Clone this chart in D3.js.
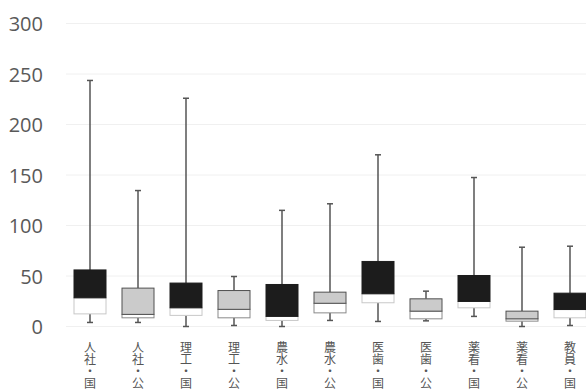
<!DOCTYPE html>
<html>
<head>
<meta charset="utf-8">
<script src="https://cdn.jsdelivr.net/npm/d3@7"></script>
<style>
  html, body { margin: 0; padding: 0; background: #fff; }
  svg { display: block; }
</style>
</head>
<body>
<svg id="chart" width="586" height="392"></svg>
<script>
// Faculty groups (national = 国, public = 公)
const categories = ["人社・国", "人社・公", "理工・国", "理工・公", "農水・国", "農水・公",
                    "医歯・国", "医歯・公", "薬看・国", "薬看・公", "教員・国"];
const kinds      = ["国", "公", "国", "公", "国", "公", "国", "公", "国", "公", "国"];
// Five-number summaries per category
const minVals    = [4,   4,   0,  1,   0,   6,   5,   5.6, 10,  0,   1];
const q1Vals     = [12.5, 8.6, 11, 8.6, 6,   13.5, 23.5, 7.6, 18.5, 5.3, 8.6];
const medVals    = [28.4, 12, 18.5, 17, 10,  23,  32.4, 15.2, 24.8, 7.6, 16.8];
const q3Vals     = [56,  38,  43, 35.6, 41.6, 34, 64.4, 27.4, 50.5, 15.2, 33];
const maxVals    = [243.6, 134.6, 226, 49.5, 115, 121.5, 170, 35, 147.5, 78.5, 79.5];
const yTicks     = [0, 50, 100, 150, 200, 250, 300];

const svg = d3.select("#chart");
const W = 586, H = 392;

const x = d3.scaleBand().domain(categories).range([66, 66 + 48 * categories.length]).padding(0);
const y = d3.scaleLinear().domain([0, 300]).range([326.5, 23.5]);
const boxW = x.bandwidth() * 2 / 3;
const capW = 6;

// faint horizontal gridlines
svg.append("g")
  .selectAll("line")
  .data(yTicks)
  .join("line")
  .attr("x1", 66).attr("x2", W)
  .attr("y1", d => y(d)).attr("y2", d => y(d))
  .attr("stroke", "#f0f0f0")
  .attr("stroke-width", 1);

// y axis labels
const yAxis = d3.axisLeft(y).tickValues(yTicks).tickSize(0).tickPadding(0);
const gy = svg.append("g").attr("transform", "translate(43,0)").call(yAxis);
gy.select(".domain").remove();
gy.selectAll("text")
  .attr("font-family", "'Open Sans', 'Noto Sans', sans-serif")
  .attr("font-size", 20)
  .attr("fill", "#595959")
  .attr("dy", "0.35em");

const data = categories.map((c, i) => ({
  c, kind: kinds[i], min: minVals[i], q1: q1Vals[i], med: medVals[i], q3: q3Vals[i], max: maxVals[i]
}));

const g = svg.append("g");
const box = g.selectAll("g.box").data(data).join("g").attr("class", "box")
  .attr("transform", d => `translate(${x(d.c) + x.bandwidth() / 2},0)`);

// upper whisker
box.append("line")
  .attr("x1", 0).attr("x2", 0)
  .attr("y1", d => y(d.max)).attr("y2", d => y(d.q3))
  .attr("stroke", "#555").attr("stroke-width", 1.5);
box.append("line")
  .attr("x1", -capW / 2).attr("x2", capW / 2)
  .attr("y1", d => y(d.max)).attr("y2", d => y(d.max))
  .attr("stroke", "#555").attr("stroke-width", 1.5);

// lower whisker
box.append("line")
  .attr("x1", 0).attr("x2", 0)
  .attr("y1", d => y(d.q1)).attr("y2", d => y(d.min))
  .attr("stroke", "#555").attr("stroke-width", 1.5);
box.append("line")
  .attr("x1", -capW / 2).attr("x2", capW / 2)
  .attr("y1", d => y(d.min)).attr("y2", d => y(d.min))
  .attr("stroke", "#555").attr("stroke-width", 1.5);

// lower half of box (Q1 to median)
box.append("rect")
  .attr("x", -boxW / 2).attr("width", boxW)
  .attr("y", d => y(d.med)).attr("height", d => y(d.q1) - y(d.med))
  .attr("fill", "#fff")
  .attr("stroke", d => d.kind === "国" ? "#c8c8c8" : "#8a8a8a")
  .attr("stroke-width", 1);

// upper half of box (median to Q3)
box.append("rect")
  .attr("x", -boxW / 2).attr("width", boxW)
  .attr("y", d => y(d.q3)).attr("height", d => y(d.med) - y(d.q3))
  .attr("fill", d => d.kind === "国" ? "#1c1c1c" : "#cbcbcb")
  .attr("stroke", d => d.kind === "国" ? "#1c1c1c" : "#505050")
  .attr("stroke-width", 1);

// vertical category labels, set in vertical writing mode
svg.append("g").selectAll("text").data(categories).join("text")
  .attr("font-family", "'Noto Sans CJK JP', sans-serif")
  .attr("font-size", 12)
  .attr("fill", "#555")
  .attr("writing-mode", "vertical-rl")
  .attr("text-anchor", "start")
  .attr("x", d => x(d) + x.bandwidth() / 2)
  .attr("y", 341)
  .text(d => d);
</script>
</body>
</html>
